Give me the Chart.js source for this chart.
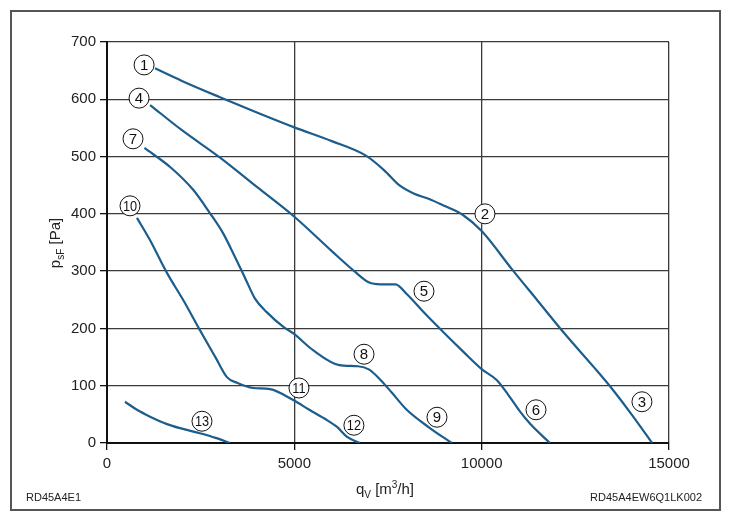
<!DOCTYPE html>
<html>
<head>
<meta charset="utf-8">
<script src="https://cdn.jsdelivr.net/npm/chart.js@4"></script>
<style>
  html, body { margin: 0; padding: 0; background: #fff; }
  #wrap { width: 730px; height: 523px; }
</style>
</head>
<body>
<div id="wrap"><canvas id="myChart" width="730" height="523"></canvas></div>
<script>
"use strict";

// curve 1-2-3
const c1x = [1280, 2000, 3000, 4000, 5000, 6000, 6900, 7400, 7800, 8200, 8600, 9000, 9500, 10000, 10800, 11500, 12200, 13000, 13500, 14000, 14550];
const c1y = [654, 632, 604, 577, 551, 527, 502, 476, 450, 435, 426, 414, 398, 370, 304, 248, 192, 132, 93, 50, 0];
// curve 4-5-6
const c4x = [1150, 2000, 3000, 4000, 5000, 6000, 6600, 7000, 7300, 7700, 8000, 8500, 9000, 9500, 10000, 10400, 10700, 11000, 11300, 11820];
const c4y = [590, 546, 499, 447, 395, 335, 300, 280, 277, 277, 260, 225, 192, 160, 129, 110, 85, 57, 33, 0];
// curve 7-8-9
const c7x = [1000, 1700, 2300, 2750, 3100, 3400, 3700, 3950, 4270, 4700, 5000, 5500, 6200, 6700, 7000, 7300, 7600, 8000, 8600, 9200];
const c7y = [515, 481, 442, 401, 366, 327, 286, 252, 228, 203, 190, 162, 136, 134, 128, 110, 88, 58, 27, 0];
// curve 10-11-12
const c10x = [800, 1150, 1600, 2030, 2480, 2900, 3200, 3470, 3900, 4350, 4970, 5400, 5870, 6140, 6400, 6750];
const c10y = [393, 354, 297, 250, 197, 149, 115, 105, 96, 94, 75, 58, 40, 28, 11, 0];
// curve 13
const c13x = [480, 800, 1150, 1600, 2000, 2480, 2900, 3280];
const c13y = [72, 58, 46, 33, 25, 17, 9, 0];

// circled numbers
const markText = ['1', '4', '7', '10', '2', '5', '8', '11', '13', '12', '9', '6', '3'];
const markX = [990, 855, 694, 614, 10088, 8460, 6860, 5124, 2535, 6590, 8807, 11450, 14278];
const markY = [660, 602, 531, 414, 400, 265, 155, 96, 38, 31, 45, 58, 72];

const yTicksMax = 700;
const xTicksMax = 15000;

const lineColor = '#1b5d8d';

function pts(xs, ys) {
    return xs.map((x, i) => ({x: x, y: ys[i]}));
}

function curve(xs, ys) {
    return {
        data: pts(xs, ys),
        borderColor: lineColor,
        borderWidth: 2.2,
        pointRadius: 0,
        fill: false,
        cubicInterpolationMode: 'monotone'
    };
}

const decor = {
    id: 'decor',
    afterDatasetsDraw(chart) {
        const ctx = chart.ctx;
        const xs = chart.scales.x, ys = chart.scales.y;
        ctx.save();
        // circled numbers
        ctx.strokeStyle = '#111';
        ctx.lineWidth = 1;
        ctx.textAlign = 'center';
        ctx.textBaseline = 'middle';
        markText.forEach((t, i) => {
            const px = xs.getPixelForValue(markX[i]);
            const py = ys.getPixelForValue(markY[i]);
            ctx.beginPath();
            ctx.arc(px, py, 10, 0, Math.PI * 2);
            ctx.fillStyle = '#fff';
            ctx.fill();
            ctx.stroke();
            ctx.fillStyle = '#111';
            if (t.length > 1) {
                ctx.font = '15px "Liberation Sans", Arial, sans-serif';
                ctx.save();
                ctx.translate(px, py + 1);
                ctx.scale(0.85, 1);
                ctx.fillText(t, 0, 0);
                ctx.restore();
            } else {
                ctx.font = '15px "Liberation Sans", Arial, sans-serif';
                ctx.fillText(t, px, py + 1);
            }
        });
        ctx.restore();
    },
    afterDraw(chart) {
        const ctx = chart.ctx;
        ctx.save();
        // outer frame
        ctx.strokeStyle = '#555';
        ctx.lineWidth = 2;
        ctx.strokeRect(11, 11, 709, 499);

        ctx.fillStyle = '#222';
        ctx.textBaseline = 'alphabetic';
        ctx.font = '11px "Liberation Sans", Arial, sans-serif';
        ctx.textAlign = 'left';
        ctx.fillText('RD45A4E1', 26, 501);
        ctx.textAlign = 'right';
        ctx.fillText('RD45A4EW6Q1LK002', 702, 501);

        // x title: q_V [m3/h]
        const big = '15px "Liberation Sans", Arial, sans-serif';
        const small = '10px "Liberation Sans", Arial, sans-serif';
        const partsX = [['q', big, 0], ['V', small, 4], [' [m', big, 0], ['3', small, -6], ['/h]', big, 0]];
        drawParts(ctx, partsX, 385, 494);

        // y title: p_sF [Pa]
        ctx.translate(55, 243);
        ctx.rotate(-Math.PI / 2);
        const partsY = [['p', big, 0], ['sF', small, 4], [' [Pa]', big, 0]];
        drawParts(ctx, partsY, 0, 5);
        ctx.restore();
    }
};

function drawParts(ctx, parts, cx, baseY) {
    let w = 0;
    parts.forEach(p => { ctx.font = p[1]; w += ctx.measureText(p[0]).width; });
    let x = cx - w / 2;
    ctx.textAlign = 'left';
    parts.forEach(p => {
        ctx.font = p[1];
        ctx.fillText(p[0], x, baseY + p[2]);
        x += ctx.measureText(p[0]).width;
    });
}

const ctx = document.getElementById('myChart').getContext('2d');
new Chart(ctx, {
    type: 'line',
    data: {
        datasets: [
            curve(c1x, c1y),
            curve(c4x, c4y),
            curve(c7x, c7y),
            curve(c10x, c10y),
            curve(c13x, c13y)
        ]
    },
    options: {
        responsive: false,
        animation: false,
        layout: {padding: {top: 42, right: 61, left: 0, bottom: 0}},
        plugins: {
            legend: {display: false},
            tooltip: {enabled: false}
        },
        scales: {
            x: {
                type: 'linear',
                min: 0,
                max: xTicksMax,
                afterFit(scale) { scale.height = 80; },
                ticks: {
                    stepSize: 5000,
                    padding: 5,
                    color: '#222',
                    font: {family: '"Liberation Sans", Arial, sans-serif', size: 15},
                    maxRotation: 0,
                    callback: (v) => String(v)
                },
                grid: {color: '#3a3a3a', lineWidth: 1.3, tickLength: 7, tickColor: '#111'},
                border: {color: '#111', width: 2}
            },
            y: {
                type: 'linear',
                min: 0,
                max: yTicksMax,
                afterFit(scale) { scale.width = 107; },
                ticks: {
                    stepSize: 100,
                    padding: 4,
                    color: '#222',
                    font: {family: '"Liberation Sans", Arial, sans-serif', size: 15},
                    callback: (v) => String(v)
                },
                grid: {color: '#3a3a3a', lineWidth: 1.3, tickLength: 7, tickColor: '#111'},
                border: {color: '#111', width: 2}
            }
        }
    },
    plugins: [decor]
});
</script>
</body>
</html>
